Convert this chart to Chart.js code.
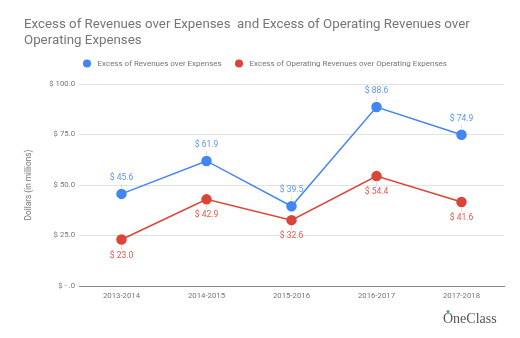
<!DOCTYPE html>
<html>
<head>
<meta charset="utf-8">
<script src="https://cdn.jsdelivr.net/npm/chart.js@4/dist/chart.umd.min.js"></script>
<style>
  html, body { margin: 0; padding: 0; background: #fff; }
  #wrap { position: relative; width: 520px; height: 338px; }
</style>
</head>
<body>
<div id="wrap"><canvas id="excessChart" width="520" height="338"></canvas></div>
<script>
// data
const years = ['2013-2014', '2014-2015', '2015-2016', '2016-2017', '2017-2018'];
const revenuesOverExpenses = [45.6, 61.9, 39.5, 88.6, 74.9];
const operatingOverExpenses = [23.0, 42.9, 32.6, 54.4, 41.6];
const seriesNames = ['Excess of Revenues over Expenses', 'Excess of Operating Revenues over Operating Expenses'];
const titleLines = ['Excess of Revenues over Expenses  and Excess of Operating Revenues over', 'Operating Expenses'];
const yTicks = [0, 25, 50, 75, 100];
const yTitle = 'Dollars (in millions)';

const BLUE = '#4285f4';
const RED = '#db4437';
const GREY = '#757575';
const FONT = 'Roboto, "Noto Sans", sans-serif';

function money(v){ return v === 0 ? '$ - .0' : '$ ' + v.toFixed(1); }

// title, legend, point labels and logo drawn on top
const extras = {
  id: 'extras',
  afterDatasetsDraw(chart){
    const ctx = chart.ctx;
    ctx.save();
    // title
    ctx.fillStyle = GREY;
    ctx.font = '13.3px ' + FONT;
    ctx.textBaseline = 'middle';
    ctx.textAlign = 'left';
    titleLines.forEach((t, i) => ctx.fillText(t, 24, 24.5 + i * 16));

    // legend
    ctx.font = '8px ' + FONT;
    const legendPos = [{ x: 87, color: BLUE }, { x: 239, color: RED }];
    legendPos.forEach((l, i) => {
      ctx.fillStyle = l.color;
      ctx.beginPath(); ctx.arc(l.x, 63.5, 4, 0, Math.PI * 2); ctx.fill();
      ctx.fillStyle = GREY;
      ctx.fillText(seriesNames[i], l.x + 10.5, 63.5);
    });

    // point labels with small leader lines
    ctx.font = '8.5px ' + FONT;
    ctx.textAlign = 'center';
    chart.data.datasets.forEach((ds, di) => {
      const meta = chart.getDatasetMeta(di);
      const dir = di === 0 ? -1 : 1;
      meta.data.forEach((pt, i) => {
        ctx.strokeStyle = '#dddddd';
        ctx.lineWidth = 1;
        ctx.beginPath();
        ctx.moveTo(pt.x, pt.y + dir * 6);
        ctx.lineTo(pt.x, pt.y + dir * 10);
        ctx.stroke();
        ctx.fillStyle = di === 0 ? '#5c95f5' : '#e0594d';
        ctx.fillText(money(ds.data[i]), pt.x, pt.y + dir * 16);
      });
    });

    // logo
    ctx.textAlign = 'left';
    ctx.fillStyle = '#555';
    ctx.font = '14px "Liberation Serif", serif';
    ctx.fillText('OneClass', 443, 319.5);
    ctx.fillStyle = '#2bb673';
    ctx.beginPath(); ctx.arc(448, 311.5, 1.5, 0, Math.PI * 2); ctx.fill();
    ctx.restore();
  }
};

new Chart(document.getElementById('excessChart'), {
  type: 'line',
  data: {
    labels: years,
    datasets: [{
      label: seriesNames[0],
      data: revenuesOverExpenses,
      borderColor: BLUE,
      backgroundColor: BLUE,
      borderWidth: 1.5,
      pointRadius: 4.5,
      pointHoverRadius: 4.5,
      tension: 0
    }, {
      label: seriesNames[1],
      data: operatingOverExpenses,
      borderColor: RED,
      backgroundColor: RED,
      borderWidth: 1.5,
      pointRadius: 4.5,
      pointHoverRadius: 4.5,
      tension: 0
    }]
  },
  options: {
    responsive: false,
    animation: false,
    layout: { padding: { top: 84, right: 16, bottom: 32, left: 24 } },
    plugins: {
      legend: { display: false },
      title: { display: false },
      tooltip: { enabled: false }
    },
    scales: {
      x: {
        offset: true,
        grid: { display: false, drawTicks: false },
        border: { color: '#888', width: 1 },
        ticks: { color: GREY, font: { family: FONT, size: 7.75 }, padding: 5 },
        afterFit: s => { s.height = 20; }
      },
      y: {
        min: 0,
        max: 100,
        afterBuildTicks: s => { s.ticks = yTicks.map(v => ({ value: v })); },
        grid: { color: '#e3e3e3', drawTicks: false },
        border: { display: false },
        ticks: {
          color: GREY,
          font: { family: FONT, size: 7.75 },
          padding: 4,
          callback: v => money(v)
        },
        title: {
          display: true,
          text: yTitle,
          color: GREY,
          font: { family: FONT, size: 8.25 },
          padding: 0
        },
        afterFit: s => { s.width = 55; }
      }
    }
  },
  plugins: [extras]
});
</script>
</body>
</html>
